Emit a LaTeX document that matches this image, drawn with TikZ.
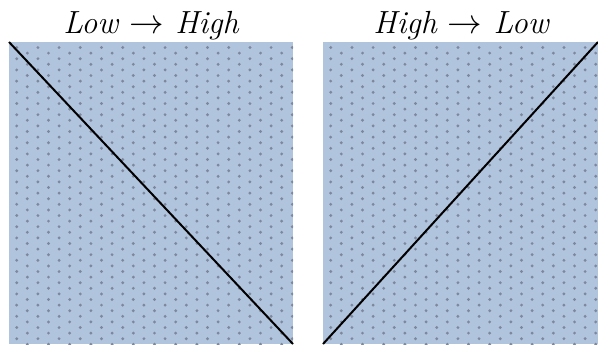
\documentclass[tikz,border=0pt]{standalone}
\definecolor{panelblue}{RGB}{176,196,222}
\definecolor{dotgrey}{RGB}{126,136,156}
\tikzset{
  title/.style={anchor=base, font=\fontsize{16}{19}\selectfont\itshape},
  diag/.style={line width=1pt},
  dot/.style={fill=dotgrey}
}
\begin{document}
\begin{tikzpicture}[x=0.5pt,y=0.5pt]
    \useasboundingbox (0,0) rectangle (598,345);
    \coordinate (lotl) at (9,303);
    \coordinate (lobr) at (293,1);
    \coordinate (hibl) at (323,1);
    \coordinate (hitr) at (598,303);
    \fill[panelblue] (9,1) rectangle (293,303);
    \fill[panelblue] (323,1) rectangle (598,303);
    \foreach \xa/\xb/\xo in {9/293/16.7,323/598/330.7} {
        \begin{scope}
            \clip (\xa,1) rectangle (\xb,303);
            \foreach \j in {0,...,27} {
                \foreach \i in {0,...,13} {
                    \fill[dot] (\xo+21.2*\i,297.5-11.2*\j) circle (0.8pt);
                    \fill[dot] (\xo+10.6+21.2*\i,291.9-11.2*\j) circle (0.8pt);
                }
            }
        \end{scope}
    }
    \node[title] (lotitle) at (151,312) {Low $\rightarrow$ High};
    \node[title] (hititle) at (461,312) {High $\rightarrow$ Low};
    \draw[diag] (lotl) -- (lobr);
    \draw[diag] (hibl) -- (hitr);
\end{tikzpicture}
\end{document}
